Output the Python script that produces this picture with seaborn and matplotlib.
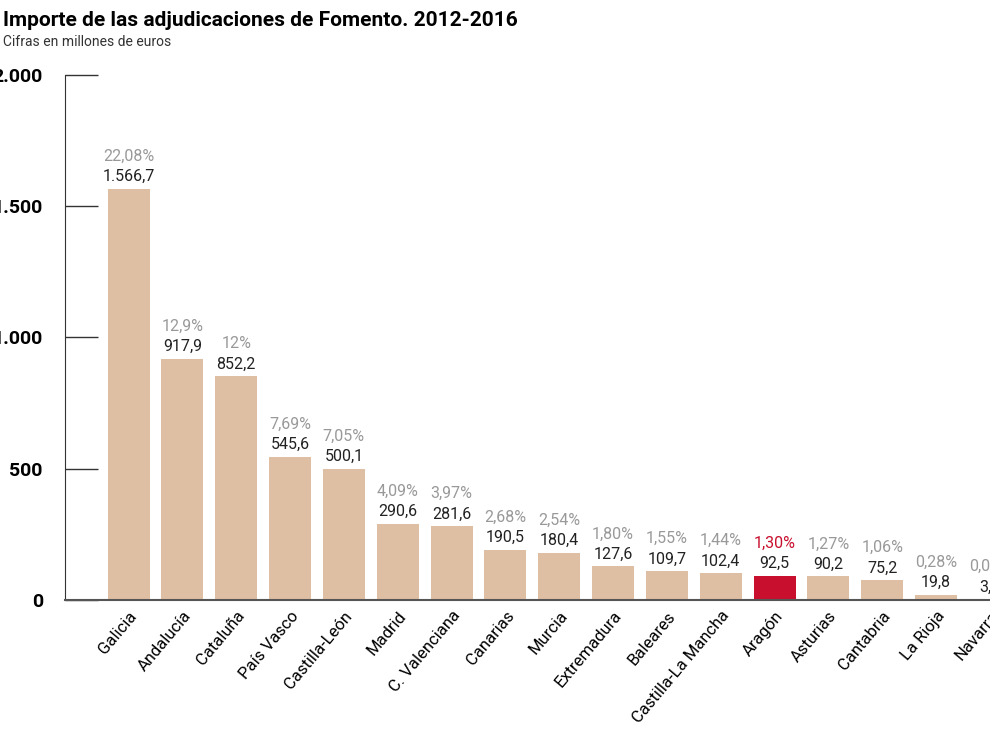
import matplotlib
matplotlib.use("Agg")
import matplotlib.pyplot as plt
import seaborn as sns
import pandas as pd

regions = ["Galicia","Andalucía","Cataluña","País Vasco","Castilla-León","Madrid","C. Valenciana",
           "Canarias","Murcia","Extremadura","Baleares","Castilla-La Mancha","Aragón","Asturias",
           "Cantabria","La Rioja","Navarra"]
values = [1566.7,917.9,852.2,545.6,500.1,290.6,281.6,190.5,180.4,127.6,109.7,102.4,92.5,90.2,75.2,19.8,3.0]
value_labels = ["1.566,7","917,9","852,2","545,6","500,1","290,6","281,6","190,5","180,4","127,6",
                "109,7","102,4","92,5","90,2","75,2","19,8","3,0"]
pct_labels = ["22,08%","12,9%","12%","7,69%","7,05%","4,09%","3,97%","2,68%","2,54%","1,80%",
              "1,55%","1,44%","1,30%","1,27%","1,06%","0,28%","0,04%"]
yticks = [0, 500, 1000, 1500, 2000]
ytick_labels = ["0", "500", "1.000", "1.500", "2.000"]

df = pd.DataFrame({"region": regions, "value": values})
tan, red = "#dfbfa3", "#c8102e"
colors = [red if r == "Aragón" else tan for r in regions]

plt.rcParams["font.family"] = "Roboto"
fig = plt.figure(figsize=(9.9, 7.42), dpi=100)
ax = fig.add_axes([0.0657, 0.1914, 0.9343, 0.7076])
sns.barplot(data=df, x="region", y="value", hue="region", palette=colors, legend=False,
            width=0.78, ax=ax, saturation=1)

for i, (v, vl, pl) in enumerate(zip(values, value_labels, pct_labels)):
    ax.text(i, v + 18, vl, ha="center", va="bottom", fontsize=11.5, color="#222222")
    ax.text(i, v + 95, pl, ha="center", va="bottom", fontsize=11.5,
            color=red if regions[i] == "Aragón" else "#999999")

ax.set_xlim(-1.18, 15.93)
ax.set_ylim(0, 2000)
ax.set_yticks(yticks)
ax.set_yticklabels(ytick_labels, fontsize=14, fontweight="bold")
ax.tick_params(axis="y", length=24, width=1, pad=16, direction="in", color="#333333")
ax.tick_params(axis="x", length=0, pad=6)
ax.set_xticks(range(len(regions)))
ax.set_xticklabels(regions, rotation=50, ha="right", rotation_mode="anchor", fontsize=12)
ax.set_xlabel(""); ax.set_ylabel("")
for s in ["top", "right"]:
    ax.spines[s].set_visible(False)
ax.spines["left"].set_color("#333333")
ax.spines["bottom"].set_color("#555555")
ax.spines["bottom"].set_linewidth(1.5)

fig.text(0.003, 0.985, "Importe de las adjudicaciones de Fomento. 2012-2016", fontsize=15,
         fontweight="bold", va="top", ha="left")
fig.text(0.003, 0.953, "Cifras en millones de euros", fontsize=10, va="top", ha="left", color="#333333")
fig.savefig("out.png", dpi=100)
